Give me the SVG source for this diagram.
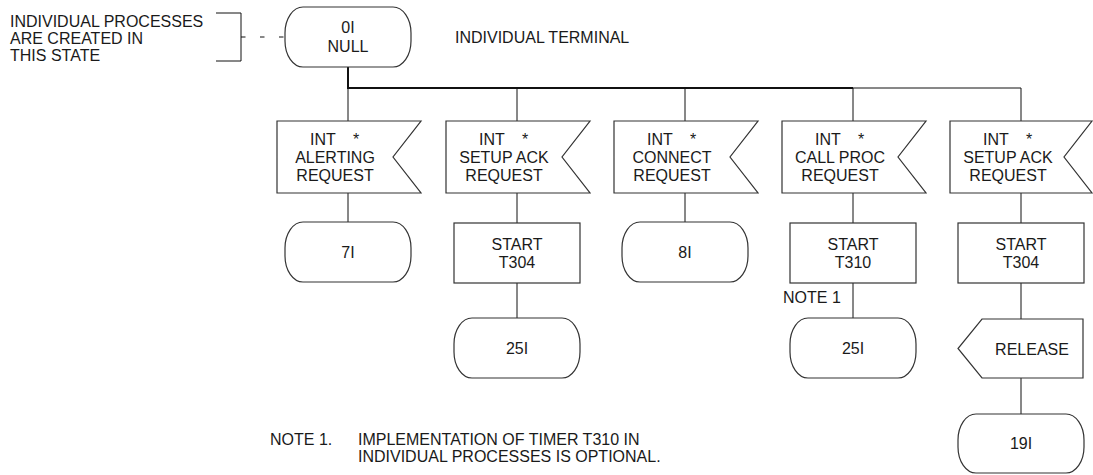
<svg xmlns="http://www.w3.org/2000/svg" width="1093" height="475" viewBox="0 0 1093 475">
<style>
text{font-family:"Liberation Sans",Arial,sans-serif;font-size:16px;fill:#1a1a1a}
.c{text-anchor:middle}
.s{fill:#fff;stroke:#333;stroke-width:1.2}
.ln{fill:none;stroke:#111;stroke-width:1}
.thick{fill:none;stroke:#111;stroke-width:2}
</style>
<rect width="1093" height="475" fill="#fff"/>
<g id="connectors">
<path class="thick" d="M348,67 V88 H853"/>
<path class="ln" d="M853,88 H1021"/>
<path class="ln" d="M348,88 V121 M517,88 V121 M685,88 V121 M853,88 V121 M1021,88 V121"/>
<path class="ln" d="M348,193 V222 M517,193 V223 M685,193 V222 M853,193 V223 M1021,193 V223"/>
<path class="ln" d="M517,283 V318 M853,283 V318 M1021,283 V319 M1021,378 V414"/>
<path class="ln" d="M216,13 H241 V61 H216"/>
<path class="ln" d="M241,37 H286" stroke-dasharray="4.5 14.5"/>
</g>
<g id="comment">
<text x="10" y="27">INDIVIDUAL PROCESSES</text>
<text x="10" y="44">ARE CREATED IN</text>
<text x="10" y="61">THIS STATE</text>
</g>
<g id="null">
<rect class="s" x="285" y="7" width="126" height="60" rx="18" ry="26"/>
<text class="c" x="348" y="33">0I</text>
<text class="c" x="348" y="51.5">NULL</text>
</g>
<g id="title"><text x="455" y="43">INDIVIDUAL TERMINAL</text></g>
<g id="in1">
<path class="s" d="M277,121 H421 L393,157 L421,193 H277 Z"/>
<text x="310" y="145">INT</text><text class="c" x="356" y="145">*</text>
<text class="c" x="335" y="163">ALERTING</text>
<text class="c" x="335" y="181">REQUEST</text>
</g>
<g id="in2">
<path class="s" d="M446,121 H590 L562,157 L590,193 H446 Z"/>
<text x="479" y="145">INT</text><text class="c" x="525" y="145">*</text>
<text class="c" x="504" y="163">SETUP ACK</text>
<text class="c" x="504" y="181">REQUEST</text>
</g>
<g id="in3">
<path class="s" d="M614,121 H758 L730,157 L758,193 H614 Z"/>
<text x="647" y="145">INT</text><text class="c" x="693" y="145">*</text>
<text class="c" x="672" y="163">CONNECT</text>
<text class="c" x="672" y="181">REQUEST</text>
</g>
<g id="in4">
<path class="s" d="M782,121 H926 L898,157 L926,193 H782 Z"/>
<text x="815" y="145">INT</text><text class="c" x="861" y="145">*</text>
<text class="c" x="840" y="163">CALL PROC</text>
<text class="c" x="840" y="181">REQUEST</text>
</g>
<g id="in5">
<path class="s" d="M950,121 H1092 L1064,157 L1092,193 H950 Z"/>
<text x="983" y="145">INT</text><text class="c" x="1029" y="145">*</text>
<text class="c" x="1008" y="163">SETUP ACK</text>
<text class="c" x="1008" y="181">REQUEST</text>
</g>
<g id="s7">
<rect class="s" x="285" y="222" width="126" height="60" rx="18" ry="26"/>
<text class="c" x="348" y="257.5">7I</text>
</g>
<g id="t2">
<rect class="s" x="454" y="223" width="126" height="60"/>
<text class="c" x="517" y="250">START</text>
<text class="c" x="517" y="268">T304</text>
</g>
<g id="s8">
<rect class="s" x="622" y="222" width="126" height="60" rx="18" ry="26"/>
<text class="c" x="685" y="257.5">8I</text>
</g>
<g id="t4">
<rect class="s" x="790" y="223" width="126" height="60"/>
<text class="c" x="853" y="250">START</text>
<text class="c" x="853" y="268">T310</text>
</g>
<g id="t5">
<rect class="s" x="958" y="223" width="126" height="60"/>
<text class="c" x="1021" y="250">START</text>
<text class="c" x="1021" y="268">T304</text>
</g>
<g id="s25a">
<rect class="s" x="454" y="318" width="126" height="60" rx="18" ry="26"/>
<text class="c" x="517" y="353.5">25I</text>
</g>
<g id="note1label"><text x="783" y="303">NOTE 1</text></g>
<g id="s25b">
<rect class="s" x="790" y="318" width="126" height="60" rx="18" ry="26"/>
<text class="c" x="853" y="353.5">25I</text>
</g>
<g id="release">
<path class="s" d="M982,319 H1083 V378 H982 L958,348.5 Z"/>
<text class="c" x="1032" y="354.5">RELEASE</text>
</g>
<g id="s19">
<rect class="s" x="958" y="414" width="126" height="59" rx="18" ry="26"/>
<text class="c" x="1021" y="449">19I</text>
</g>
<g id="note">
<text x="270" y="445">NOTE 1.</text>
<text x="358" y="445">IMPLEMENTATION OF TIMER T310 IN</text>
<text x="358" y="462">INDIVIDUAL PROCESSES IS OPTIONAL.</text>
</g>
</svg>
